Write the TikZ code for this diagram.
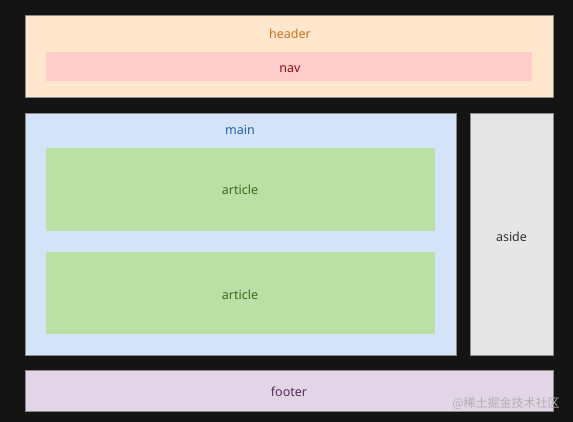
\documentclass[tikz,border=0pt]{standalone}
\usepackage{fontspec}
\setmainfont{Noto Sans}
\newfontfamily\cjk{Noto Sans CJK SC}
\definecolor{bg}{HTML}{141414}
\definecolor{hdrfill}{HTML}{FFE6CC}
\definecolor{hdrtext}{HTML}{C87420}
\definecolor{navfill}{HTML}{FFCCCC}
\definecolor{navtext}{HTML}{8B1010}
\definecolor{mainfill}{HTML}{D4E3F7}
\definecolor{maintext}{HTML}{1F5FA6}
\definecolor{artfill}{HTML}{BBE0A6}
\definecolor{arttext}{HTML}{3A6A1A}
\definecolor{asidefill}{HTML}{E6E6E6}
\definecolor{asidetext}{HTML}{333333}
\definecolor{footfill}{HTML}{E2D5E7}
\definecolor{foottext}{HTML}{5A2A5A}
\definecolor{edge}{HTML}{8A8A8A}
\definecolor{wm}{HTML}{B0B0B0}
\tikzset{
  box/.style={draw=edge, line width=0.6pt},
  lbl/.style={font=\fontsize{12.5}{14}\selectfont, inner sep=0pt}
}
\begin{document}
\begin{tikzpicture}[x=1pt,y=-1pt]
\fill[bg] (0,0) rectangle (573,422);
\useasboundingbox (0,0) rectangle (573,422);
% header
\filldraw[box, fill=hdrfill] (25,15) rectangle (553,97);
\node[lbl, text=hdrtext] (header) at (290,34) {header};
\fill[navfill] (46,52) rectangle (532,81);
\node[lbl, text=navtext] (nav) at (290,69) {nav};
% main
\filldraw[box, fill=mainfill] (25,113) rectangle (456,355);
\node[lbl, text=maintext] (main) at (240,130) {main};
\fill[artfill] (46,148) rectangle (435,231);
\node[lbl, text=arttext] (art1) at (240,190) {article};
\fill[artfill] (46,252) rectangle (435,334);
\node[lbl, text=arttext] (art2) at (240,295) {article};
% aside
\filldraw[box, fill=asidefill] (470,113) rectangle (553,355);
\node[lbl, text=asidetext] (aside) at (511.5,237) {aside};
% footer
\filldraw[box, fill=footfill] (25,370) rectangle (553,411);
\node[lbl, text=foottext] (footer) at (289,392) {footer};
% watermark
\node[inner sep=0pt, text=wm, font=\cjk\fontsize{12}{14}\selectfont] (wm) at (506,403) {@稀土掘金技术社区};
\end{tikzpicture}
\end{document}
